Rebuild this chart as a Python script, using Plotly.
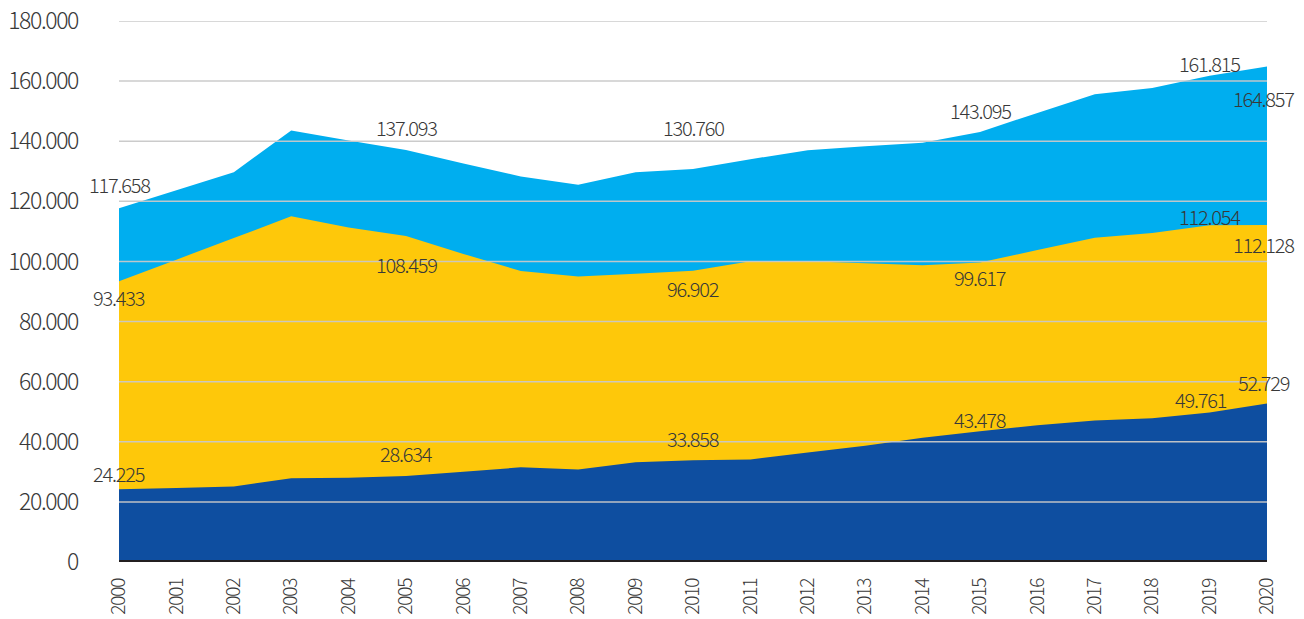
import plotly.graph_objects as go

years = list(range(2000, 2021))

total = [117658, 123700, 129700, 143600, 140200, 137093, 132600, 128300, 125500, 129700,
         130760, 134000, 137000, 138300, 139500, 143095, 149400, 155600, 157700, 161815, 164857]
middle = [93433, 100600, 107800, 115000, 111300, 108459, 102500, 96800, 95000, 95900,
          96902, 100100, 100100, 99400, 98700, 99617, 103800, 107900, 109500, 112054, 112128]
bottom = [24225, 24600, 25100, 27900, 28000, 28634, 30000, 31500, 30800, 33200,
          33858, 34100, 36400, 38700, 41300, 43478, 45500, 47100, 47800, 49761, 52729]

label_years = [2000, 2005, 2010, 2015, 2019, 2020]

y_tickvals = [0, 20000, 40000, 60000, 80000, 100000, 120000, 140000, 160000, 180000]
y_ticktext = ["0", "20.000", "40.000", "60.000", "80.000", "100.000",
              "120.000", "140.000", "160.000", "180.000"]

# styling: pixel shift of each value label (per labelled year)
label_shift = {
    "total": [24, 22, 41, 21, 12, -32],
    "middle": [-16, -28, -18, -15, 9, -20],
    "bottom": [16, 22, 22, 12, 13, 21],
}
label_xshift = {
    "total": [0, 0, 0, 0, 0, -4],
    "middle": [0, 0, 0, 0, 0, -4],
    "bottom": [0, 0, 0, 0, -9, -3],
}

colors = {"total": "#00AEEF", "middle": "#FEC80A", "bottom": "#0E4EA0"}
series = {"total": total, "middle": middle, "bottom": bottom}

FONT = "Noto Sans CJK KR, Noto Sans, sans-serif"
TXT = "#383838"

def tight(s, ls=-1.2):
    return f'<span style="letter-spacing:{ls}px">{s}</span>'

fig = go.Figure()
for key in ["total", "middle", "bottom"]:
    fig.add_trace(go.Scatter(
        x=years, y=series[key], mode="none", fill="tozeroy",
        fillcolor=colors[key], hoverinfo="skip", showlegend=False,
    ))

def fmt(v):
    return f"{v:,}".replace(",", ".")

annotations = []
for key in ["total", "middle", "bottom"]:
    vals = series[key]
    for i, yr in enumerate(label_years):
        v = vals[years.index(yr)]
        annotations.append(dict(
            x=yr, y=v, xref="x", yref="y", text=tight(fmt(v)), showarrow=False,
            xanchor="center", yanchor="middle",
            yshift=label_shift[key][i], xshift=label_xshift[key][i],
            font=dict(family=FONT, size=20, color=TXT, weight=300),
        ))

shapes = []
for tv in y_tickvals[1:]:
    shapes.append(dict(type="line", xref="paper", yref="y", x0=0, x1=1, y0=tv, y1=tv,
                       line=dict(color="rgba(200,200,200,0.95)", width=1.5), layer="above"))
shapes.append(dict(type="line", xref="paper", yref="y", x0=0, x1=1, y0=0, y1=0,
                   line=dict(color="#231f20", width=4), layer="above"))

fig.update_layout(
    width=1296, height=611,
    margin=dict(l=111, r=37, t=13, b=57, autoexpand=False),
    paper_bgcolor="white", plot_bgcolor="white",
    annotations=annotations, shapes=shapes,
    font=dict(family=FONT, color=TXT),
)
fig.update_xaxes(
    range=[2000, 2020], tickvals=years, ticktext=[tight(str(y)) for y in years],
    tickangle=-90, tickfont=dict(family=FONT, size=19, color=TXT, weight=300),
    showgrid=False, zeroline=False, showline=False, ticks="",
    ticklabelstandoff=12, automargin=False, ticklabeloverflow="allow",
)
fig.update_yaxes(
    range=[0, 180000], tickvals=y_tickvals, ticktext=[tight(t, -1.4) for t in y_ticktext],
    tickfont=dict(family=FONT, size=23, color=TXT, weight=300),
    showgrid=False, zeroline=False, showline=False, ticks="",
    ticklabelstandoff=40, automargin=False, ticklabeloverflow="allow",
)

fig.write_html("out.html")
